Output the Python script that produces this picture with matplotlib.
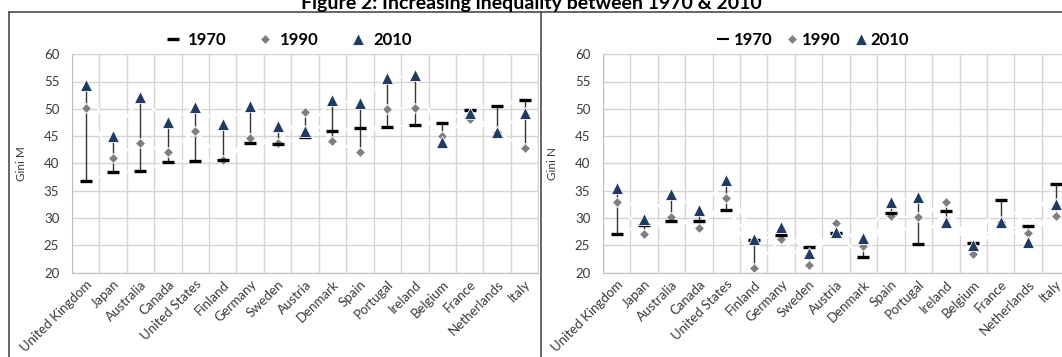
import matplotlib.pyplot as plt
import numpy as np
from matplotlib.lines import Line2D

plt.rcParams['font.family'] = ['Lato', 'DejaVu Sans']

countries = ['United Kingdom', 'Japan', 'Australia', 'Canada', 'United States',
             'Finland', 'Germany', 'Sweden', 'Austria', 'Denmark', 'Spain',
             'Portugal', 'Ireland', 'Belgium', 'France', 'Netherlands', 'Italy']

# Gini M (market income)
m_1970 = [36.7, 38.4, 38.6, 40.3, 40.5, 40.6, 43.7, 43.6, 44.8, 45.9, 46.5,
          46.7, 47.0, 47.4, 49.8, 50.6, 51.7]
m_1990 = [50.1, 41.0, 43.8, 42.0, 45.9, 40.6, 44.6, 43.8, 49.4, 44.1, 42.1,
          50.0, 50.1, 45.1, 48.2, 45.7, 42.9]
m_2010 = [54.3, 45.0, 52.2, 47.5, 50.3, 47.3, 50.6, 46.9, 45.9, 51.6, 51.0,
          55.7, 56.1, 44.0, 49.3, 45.8, 49.2]

# Gini N (net income)
n_1970 = [27.0, 28.8, 29.4, 29.5, 31.4, 26.0, 26.9, 24.6, 27.2, 22.8, 30.9,
          25.3, 31.3, 25.4, 33.3, 28.6, 36.2]
n_1990 = [33.0, 27.0, 30.1, 28.1, 33.7, 20.9, 26.2, 21.4, 29.0, 24.9, 30.3,
          30.1, 32.9, 23.4, 29.3, 27.2, 30.3]
n_2010 = [35.5, 29.9, 34.4, 31.4, 37.0, 26.1, 28.4, 23.5, 27.4, 26.4, 33.0,
          33.8, 29.2, 25.1, 29.2, 25.6, 32.5]

years = ['1970', '1990', '2010']

GRID = '#d4d4d4'
TXT = '#3a3a3a'
DIAM = '#7f7f7f'
TRI = '#1f3b63'

W, H = 1062, 357
fig = plt.figure(figsize=(W / 100, H / 100), dpi=100)


def panel(rect, a, b, c, ylabel):
    ax = fig.add_axes(rect)
    x = np.arange(len(countries))
    a, b, c = np.array(a), np.array(b), np.array(c)
    ax.set_xlim(-0.5, len(countries) - 0.5)
    ax.set_ylim(20, 60)
    ax.set_yticks(range(20, 61, 5))
    ax.set_xticks(np.arange(-0.5, len(countries)), minor=False)
    ax.set_xticklabels([])
    ax.set_xticks(x, minor=True)
    ax.set_xticklabels(countries, minor=True, rotation=45, ha='right',
                       rotation_mode='anchor', fontsize=9.5, color=TXT)
    ax.tick_params(which='both', length=0)
    ax.tick_params(axis='y', pad=9, labelsize=9.5, labelcolor=TXT)
    ax.tick_params(axis='x', which='minor', pad=4)
    ax.grid(True, which='major', color=GRID, lw=1)
    ax.set_axisbelow(True)
    for s in ax.spines.values():
        s.set_color(GRID)
    ax.spines['left'].set_color('#bfbfbf')
    ax.spines['bottom'].set_color('#bfbfbf')
    ax.set_ylabel(ylabel, fontsize=8.5, color=TXT, labelpad=12)

    # white series lines (erase grid where they cross)
    for s in (a, b, c):
        ax.plot(x, s, color='white', lw=1.5, zorder=1.5)
    lo = np.minimum(np.minimum(a, b), c)
    hi = np.maximum(np.maximum(a, b), c)
    ax.vlines(x, lo, hi, color='#333333', lw=1, zorder=2)
    ax.plot(x, b, ls='none', marker='D', ms=5.5, color=DIAM,
            mec='white', mew=0.6, zorder=3)
    ax.plot(x, a, ls='none', marker='_', ms=9, mew=2.4, color='black', zorder=4)
    ax.plot(x, c, ls='none', marker='^', ms=8.5, color=TRI,
            mec='white', mew=0.6, zorder=5)
    return ax


pw = (538.3 - 71.8) / W
ph = (272.6 - 54.2) / H
pb = 1 - 272.6 / H
ax1 = panel([71.8 / W, pb, pw, ph], m_1970, m_1990, m_2010, 'Gini M')
ax2 = panel([602.8 / W, pb, pw, ph], n_1970, n_1990, n_2010, 'Gini N')

# panel frames
ytop = 1 - 12 / H
fig.add_artist(Line2D([8.5 / W, 1.0], [ytop, ytop], color='#595959', lw=1.3))
fig.add_artist(Line2D([8.5 / W, 8.5 / W], [0, ytop], color='#595959', lw=1.3))
fig.add_artist(Line2D([541 / W, 541 / W], [0, ytop], color='#595959', lw=1.3))

fig.text(0.5, 1 - 9 / H, 'Figure 2: Increasing inequality between 1970 & 2010',
         ha='center', va='baseline', fontsize=14, weight='bold', color='black')


def handles(barw):
    return [Line2D([], [], ls='none', marker='_', ms=9, mew=barw, color='black'),
            Line2D([], [], ls='none', marker='D', ms=5.5, color=DIAM, mec='white', mew=0.6),
            Line2D([], [], ls='none', marker='^', ms=8, color=TRI, mec='white', mew=0.6)]


fig.legend(handles(2.4), years, loc='center', bbox_to_anchor=(288 / W, 1 - 40 / H),
           ncol=3, frameon=False, prop={'weight': 'bold', 'size': 12},
           handlelength=1.0, handletextpad=0.4, columnspacing=1.85, borderpad=0)
fig.legend(handles(1.5), years, loc='center', bbox_to_anchor=(813 / W, 1 - 40 / H),
           ncol=3, frameon=False, prop={'weight': 'bold', 'size': 12},
           handlelength=0.8, handletextpad=0.2, columnspacing=0.8, borderpad=0)

fig.savefig('out.png', dpi=100)
